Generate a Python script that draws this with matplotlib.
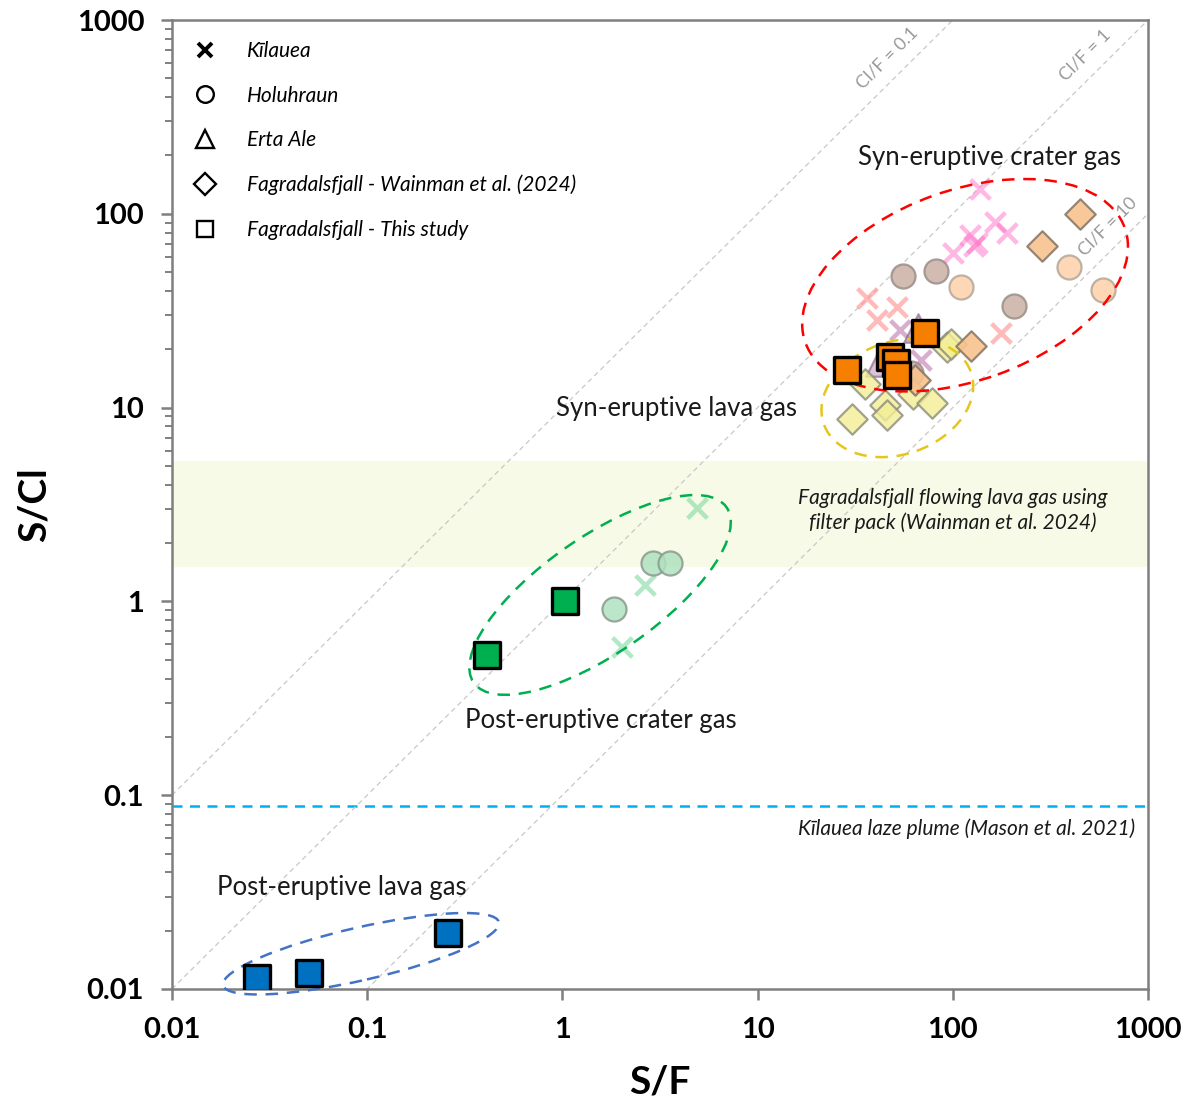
import numpy as np
import matplotlib.pyplot as plt
from matplotlib.patches import Ellipse
from matplotlib.lines import Line2D
from matplotlib.transforms import Affine2D

plt.rcParams['font.family'] = ['Lato', 'DejaVu Sans']

# ---- Kilauea (crosses) ----
kil_pink_sf = [36.3, 40.9, 51.8, 177]
kil_pink_scl = [36.6, 28.2, 32.9, 24.2]
kil_mauve_sf = [53.7, 68.7]
kil_mauve_scl = [25.0, 17.7]
kil_mag_sf = [138, 100, 122, 133, 164, 190, 128]
kil_mag_scl = [134, 62.6, 77.5, 70.5, 90.5, 80, 68]
kil_green_sf = [4.89, 2.65, 2.02]
kil_green_scl = [3.02, 1.21, 0.585]

# ---- Holuhraun (circles) ----
hol_brown_sf = [55.6, 82, 206, 61]
hol_brown_scl = [47.6, 50.5, 33.3, 15.0]
hol_peach_sf = [110, 394, 588]
hol_peach_scl = [41.8, 53, 40.3]
hol_green_sf = [1.84, 2.91, 3.56]
hol_green_scl = [0.918, 1.57, 1.57]

# ---- Erta Ale (triangles) ----
erta_sf = [66.4, 42.4]
erta_scl = [25.6, 17.1]

# ---- Fagradalsfjall, Wainman et al. (2024) (diamonds) ----
wain_orange_sf = [450, 286, 124, 64]
wain_orange_scl = [100, 68, 20.7, 13.8]
wain_yellow_sf = [35.5, 45, 46, 30.5, 62.5, 78, 93, 98]
wain_yellow_scl = [13.3, 10.3, 9.2, 8.7, 11.7, 10.6, 20.5, 21.2]

# ---- Fagradalsfjall, this study (squares) ----
syn_crater_sf = [28.7, 47.7, 51.2, 51.8, 72.1]
syn_crater_scl = [15.7, 18.2, 16.9, 14.7, 24.2]
post_crater_sf = [0.411, 1.03]
post_crater_scl = [0.531, 1.0]
post_lava_sf = [0.0272, 0.0503, 0.26]
post_lava_scl = [0.0114, 0.0121, 0.0195]

# Cl/F reference ratios
clf_ratios = [0.1, 1, 10]
clf_labels = ['Cl/F = 0.1', 'Cl/F = 1', 'Cl/F = 10']
clf_label_sf = [46, 475, 624]

# filter pack band and laze plume level (S/Cl)
band_lo, band_hi = 1.53, 5.3
laze_scl = 0.088

# group outlines: centre (S/F, S/Cl), semi-axes in decades, tilt (deg), colour
groups = [
    (115.6, 42.8, 0.87, 0.49, 20, '#ff0000'),
    (52, 11.2, 0.40, 0.29, 20, '#e6c619'),
    (1.56, 1.08, 0.79, 0.30, 35, '#00b050'),
    (0.093, 0.0152, 0.725, 0.136, 13, '#4472c4'),
]

fig = plt.figure(figsize=(11.9, 11.06), dpi=100)
ax = fig.add_axes([0.1445, 0.1058, 0.8202, 0.8761])
ax.set_xscale('log')
ax.set_yscale('log')
ax.set_xlim(0.01, 1000)
ax.set_ylim(0.01, 1000)

ax.axhspan(band_lo, band_hi, color='#f7fae6', zorder=0)
ax.axhline(laze_scl, color='#00b0f0', lw=1.8, ls=(0, (4, 3)), zorder=1)

xs = np.logspace(-2, 3, 50)
for r in clf_ratios:
    ax.plot(xs, xs / r, color='#c8c8c8', lw=0.9, ls=(0, (4, 3)), zorder=1)
for r, lab, sx in zip(clf_ratios, clf_labels, clf_label_sf):
    ax.text(sx, sx / r * 1.38, lab, rotation=45, color='#999999', fontsize=13,
            ha='center', va='center', rotation_mode='anchor', zorder=2)

# crosses
cross_kw = dict(marker='x', s=200, linewidths=3.2, zorder=3)
ax.scatter(kil_pink_sf, kil_pink_scl, color='#ff8c8c', alpha=0.6, **cross_kw)
ax.scatter(kil_mauve_sf, kil_mauve_scl, color='#b86aa8', alpha=0.55, **cross_kw)
ax.scatter(kil_mag_sf, kil_mag_scl, color='#ff70c8', alpha=0.5, **cross_kw)
ax.scatter(kil_green_sf, kil_green_scl, color='#7fd99f', alpha=0.6, **cross_kw)

# circles
circ_kw = dict(marker='o', s=300, linewidths=1.6, zorder=4)
ax.scatter(hol_brown_sf, hol_brown_scl, facecolor='#cbb0a4', edgecolor='#9a8e88', alpha=0.85, **circ_kw)
ax.scatter(hol_peach_sf, hol_peach_scl, facecolor='#fdd1aa', edgecolor='#b5a698', alpha=0.85, **circ_kw)
ax.scatter(hol_green_sf, hol_green_scl, facecolor='#b0e2c0', edgecolor='#8a9a8e', alpha=0.85, **circ_kw)

# triangles
ax.scatter(erta_sf, erta_scl, marker='^', s=420, facecolor='#c79ac2', edgecolor='#7a5a78',
           linewidths=1.6, alpha=0.6, zorder=5)

# diamonds
dia_kw = dict(marker='D', s=240, linewidths=1.6, zorder=6)
ax.scatter(wain_yellow_sf, wain_yellow_scl, facecolor='#f3ee96', edgecolor='#8c8c78', alpha=0.8, **dia_kw)
ax.scatter(wain_orange_sf, wain_orange_scl, facecolor='#f8c28e', edgecolor='#8a7a6a', alpha=0.9, **dia_kw)

# group outlines drawn in log-decade units
logt = Affine2D().translate(2, 2).scale(1 / 5) + ax.transAxes
for cx, cy, a, b, ang, col in groups:
    e = Ellipse((np.log10(cx), np.log10(cy)), 2 * a, 2 * b, angle=ang, fill=False,
                edgecolor=col, lw=1.8, ls=(0, (5, 3.5)), transform=logt, clip_on=False, zorder=7)
    ax.add_patch(e)

# squares
sq_kw = dict(marker='s', s=330, edgecolor='black', linewidths=2.4, zorder=8)
ax.scatter(syn_crater_sf, syn_crater_scl, facecolor='#f77f00', **sq_kw)
ax.scatter(post_crater_sf, post_crater_scl, facecolor='#00b050', **sq_kw)
ax.scatter(post_lava_sf, post_lava_scl, facecolor='#0070c0', **sq_kw)

# group names
name_kw = dict(fontsize=18.5, ha='center', va='center', color='#1a1a1a', zorder=9)
ax.text(155, 196, 'Syn-eruptive crater gas', **name_kw)
ax.text(3.86, 9.9, 'Syn-eruptive lava gas', **name_kw)
ax.text(1.58, 0.242, 'Post-eruptive crater gas', **name_kw)
ax.text(0.0743, 0.0333, 'Post-eruptive lava gas', **name_kw)
ax.text(100, 2.95, 'Fagradalsfjall flowing lava gas using\nfilter pack (Wainman et al. 2024)',
        fontsize=15, style='italic', ha='center', va='center', color='#1a1a1a', linespacing=1.25)
ax.text(860, 0.067, 'Kīlauea laze plume (Mason et al. 2021)', fontsize=15, style='italic',
        ha='right', va='center', color='#1a1a1a')

# legend
handles = [
    Line2D([], [], marker='x', ls='none', color='black', ms=10, mew=2.8),
    Line2D([], [], marker='o', ls='none', mfc='none', mec='black', ms=12, mew=1.7),
    Line2D([], [], marker='^', ls='none', mfc='none', mec='black', ms=13, mew=1.7),
    Line2D([], [], marker='D', ls='none', mfc='none', mec='black', ms=11, mew=1.7),
    Line2D([], [], marker='s', ls='none', mfc='none', mec='black', ms=11, mew=1.7),
]
labels = ['Kīlauea', 'Holuhraun', 'Erta Ale', 'Fagradalsfjall - Wainman et al. (2024)',
          'Fagradalsfjall - This study']
ax.legend(handles, labels, loc='upper left', bbox_to_anchor=(0.0, 1.0), frameon=False,
          prop=dict(style='italic', size=15), labelspacing=1.18, handlelength=1.2,
          handletextpad=1.4, borderaxespad=0.75, borderpad=0.26)

# axes styling
for sp in ax.spines.values():
    sp.set_color('#7f7f7f')
    sp.set_linewidth(1.8)
ax.set_xticks([0.01, 0.1, 1, 10, 100, 1000])
ax.set_xticklabels(['0.01', '0.1', '1', '10', '100', '1000'])
ax.set_yticks([0.01, 0.1, 1, 10, 100, 1000])
ax.set_yticklabels(['0.01', '0.1', '1', '10', '100', '1000'])
ax.xaxis.set_minor_locator(plt.NullLocator())
ax.tick_params(axis='both', which='major', direction='out', length=8, width=1.8, color='#7f7f7f',
               labelsize=21, pad=12)
ax.tick_params(axis='y', which='minor', direction='out', length=5, width=1.4, color='#7f7f7f')
for t in ax.get_xticklabels() + ax.get_yticklabels():
    t.set_fontweight('bold')
ax.set_xlabel('S/F', fontsize=28, fontweight='bold', labelpad=16)
ax.set_ylabel('S/Cl', fontsize=28, fontweight='bold', labelpad=18)

fig.savefig('out.png', dpi=100)
